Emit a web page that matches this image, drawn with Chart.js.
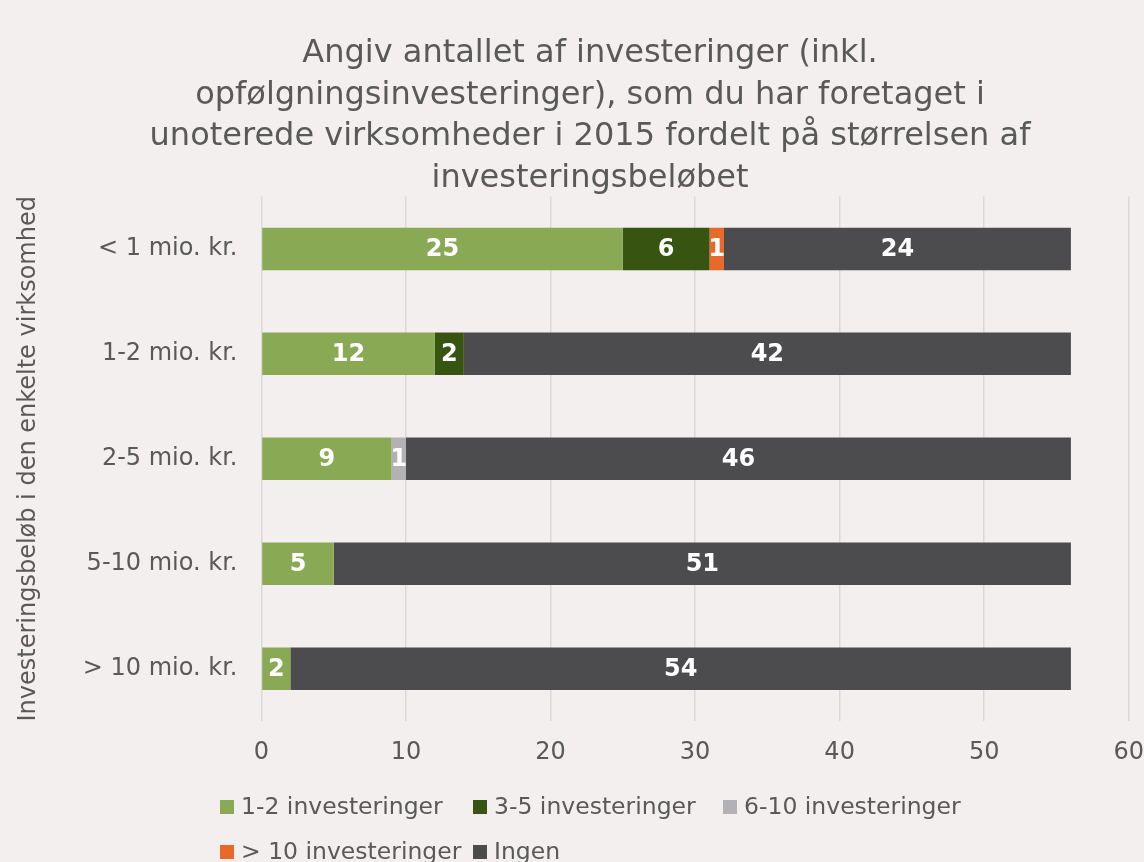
<!DOCTYPE html>
<html>
<head>
<meta charset="utf-8">
<script src="https://cdn.jsdelivr.net/npm/chart.js@4.4.1/dist/chart.umd.min.js"></script>
<style>
html,body{margin:0;padding:0;background:#F2EFEE;}
canvas{display:block;}
</style>
</head>
<body>
<canvas id="c" width="1144" height="862"></canvas>
<script>
const categories = ["< 1 mio. kr.", "1-2 mio. kr.", "2-5 mio. kr.", "5-10 mio. kr.", "> 10 mio. kr."];
const seriesNames = ["1-2 investeringer", "3-5 investeringer", "6-10 investeringer", "> 10 investeringer", "Ingen"];
const inv1to2 = [25, 12, 9, 5, 2];
const inv3to5 = [6, 2, 0, 0, 0];
const inv6to10 = [0, 0, 1, 0, 0];
const invOver10 = [1, 0, 0, 0, 0];
const ingen = [24, 42, 46, 51, 54];
const xTicks = [0, 10, 20, 30, 40, 50, 60];
const titleLines = ["Angiv antallet af investeringer (inkl.", "opfølgningsinvesteringer), som du har foretaget i", "unoterede virksomheder i 2015 fordelt på størrelsen af", "investeringsbeløbet"];
const yTitle = "Investeringsbeløb i den enkelte virksomhed";

const colors = ["#8AA955", "#375410", "#B2B2B4", "#E8692A", "#4C4C4E"];
const seriesData = [inv1to2, inv3to5, inv6to10, invOver10, ingen];
const grey = "#595959";
const FONT = "'DejaVu Sans', sans-serif";

const labelPlugin = {
  id: 'segLabels',
  afterDatasetsDraw(chart) {
    const ctx = chart.ctx;
    ctx.save();
    ctx.fillStyle = '#FFFFFF';
    ctx.font = "bold 24px " + FONT;
    ctx.textAlign = 'center';
    ctx.textBaseline = 'middle';
    chart.data.datasets.forEach((ds, di) => {
      const meta = chart.getDatasetMeta(di);
      meta.data.forEach((el, i) => {
        const v = ds.data[i];
        if (!v) return;
        const p = el.getProps(['x', 'y', 'base'], true);
        ctx.fillText(String(v), (p.x + p.base) / 2, p.y + 1);
      });
    });
    ctx.restore();
  }
};

const legendPlugin = {
  id: 'customLegend',
  afterDraw(chart) {
    const ctx = chart.ctx;
    const rows = [[0, 1, 2], [3, 4]];
    const colX = [220, 473, 723];
    const rowY = [807, 852];
    ctx.save();
    ctx.font = "23.5px " + FONT;
    ctx.textBaseline = 'middle';
    ctx.textAlign = 'left';
    rows.forEach((r, ri) => {
      r.forEach((di, ci) => {
        const x = colX[ci];
        const y = rowY[ri];
        ctx.fillStyle = colors[di];
        ctx.fillRect(x, y - 7, 14, 14);
        ctx.fillStyle = grey;
        ctx.fillText(chart.data.datasets[di].label, x + 21, y + 1);
      });
    });
    ctx.restore();
  }
};

new Chart(document.getElementById('c'), {
  type: 'bar',
  data: {
    labels: categories,
    datasets: seriesNames.map((n, i) => ({
      label: n,
      data: seriesData[i],
      backgroundColor: colors[i],
      borderWidth: 0,
      barPercentage: 0.405,
      categoryPercentage: 1.0
    }))
  },
  options: {
    indexAxis: 'y',
    responsive: false,
    animation: false,
    layout: { padding: { left: 36, right: 0, top: 0, bottom: 95 } },
    plugins: {
      legend: { display: false },
      tooltip: { enabled: false },
      title: {
        display: true,
        text: titleLines,
        color: grey,
        font: { family: FONT, size: 32, weight: 'normal', lineHeight: 1.3 },
        padding: { top: 33, bottom: -3 }
      }
    },
    scales: {
      x: {
        stacked: true,
        min: 0,
        max: 60,
        afterBuildTicks(axis) { axis.ticks = xTicks.map(v => ({ value: v })); },
        grid: { color: "#D9D9D9", lineWidth: 1.5, drawTicks: true, tickLength: 17, tickColor: 'rgba(0,0,0,0)' },
        border: { display: false },
        ticks: { color: grey, font: { family: FONT, size: 24 }, padding: 0, maxRotation: 0 }
      },
      y: {
        stacked: true,
        grid: { display: false, drawTicks: false },
        border: { display: false },
        ticks: { color: grey, font: { family: FONT, size: 24 }, padding: 24 },
        title: {
          display: true,
          text: yTitle,
          color: grey,
          font: { family: FONT, size: 24 },
          padding: { top: -22, bottom: 16 }
        }
      }
    }
  },
  plugins: [labelPlugin, legendPlugin]
});
</script>
</body>
</html>
